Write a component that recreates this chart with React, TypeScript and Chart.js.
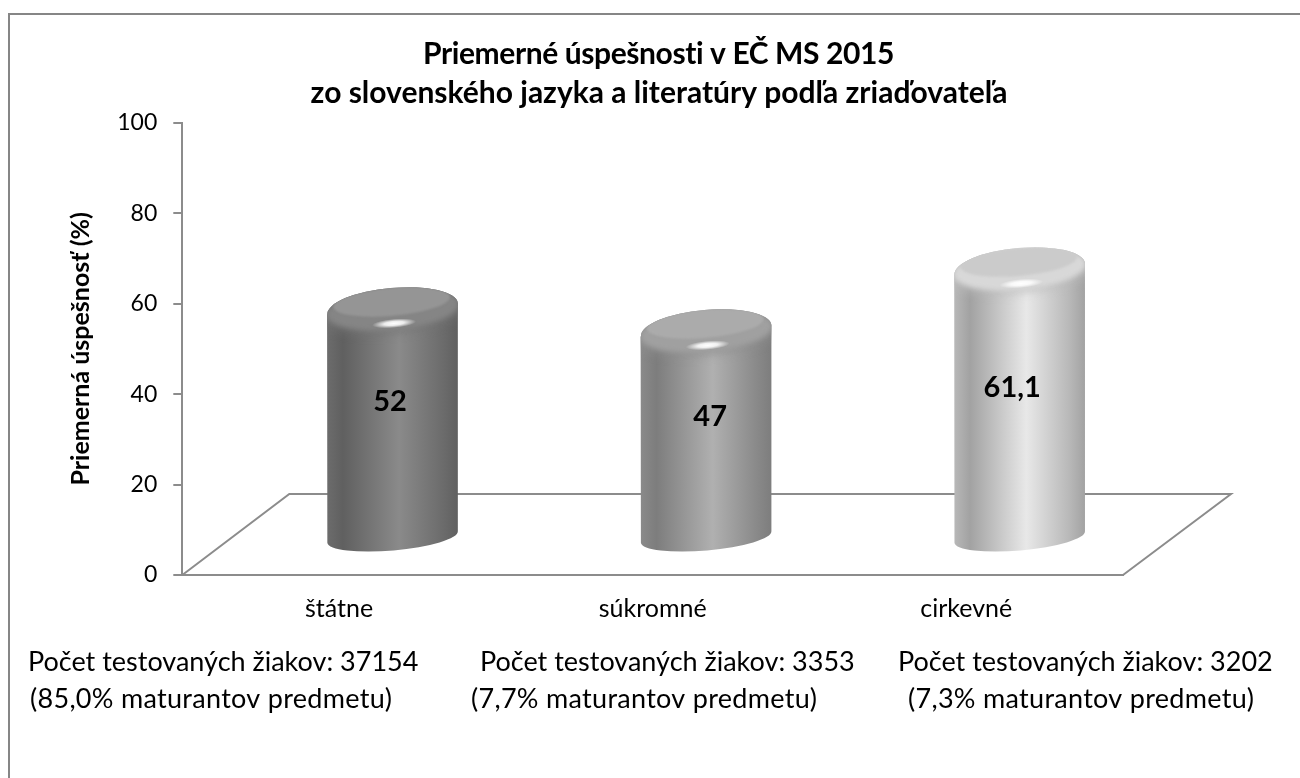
import React, { useEffect, useRef } from "react";
import { Chart, registerables } from "chart.js";

Chart.register(...registerables);

const categories = ["štátne", "súkromné", "cirkevné"];
const values = [52, 47, 61.1];
const valueLabels = ["52", "47", "61,1"];
const yTicks = [0, 20, 40, 60, 80, 100];
const titleLines = [
  "Priemerné úspešnosti v EČ MS 2015",
  "zo slovenského jazyka a literatúry podľa zriaďovateľa",
];
const yTitle = "Priemerná úspešnosť (%)";
const noteLine1 = [
  "Počet testovaných žiakov: 37154",
  "Počet testovaných žiakov: 3353",
  "Počet testovaných žiakov: 3202",
];
const noteLine2 = [
  "(85,0% maturantov predmetu)",
  "(7,7% maturantov predmetu)",
  "(7,3% maturantov predmetu)",
];

const FONT = "Lato, Carlito, 'Open Sans', sans-serif";
const AXIS = "#8c8c8c";
const shades = [
  { dark: "#606060", mid: "#6c6c6c", light: "#8a8a8a", face: "#959595", bevel: "#858585", top: "#757575" },
  { dark: "#7d7d7d", mid: "#8a8a8a", light: "#b0b0b0", face: "#ababab", bevel: "#a0a0a0", top: "#8e8e8e" },
  { dark: "#a2a2a2", mid: "#b8b8b8", light: "#e8e8e8", face: "#cbcbcb", bevel: "#d8d8d8", top: "#bcbcbc" },
];
const labelShift = [
  { x: -2.5, y: -56 },
  { x: 4, y: -52 },
  { x: -7.5, y: -49 },
];
const noteX = [
  [28, 30],
  [480, 471],
  [898, 908],
];

const TILT = (-5 * Math.PI) / 180;

function drawCylinder(ctx: CanvasRenderingContext2D, cx: number, rx: number, topY: number, baseY: number, s: any) {
  const ryT = 21;
  const ryB = 13.5;
  const lean = Math.sin(TILT) * rx;
  const path = () => {
    ctx.beginPath();
    ctx.moveTo(cx - rx, topY - lean);
    ctx.ellipse(cx, baseY, rx, ryB, TILT, Math.PI, 0, true);
    ctx.ellipse(cx, topY, rx, ryT, TILT, 0, Math.PI, true);
    ctx.closePath();
  };

  ctx.save();
  const grad = ctx.createLinearGradient(cx - rx, 0, cx + rx, 0);
  grad.addColorStop(0, s.mid);
  grad.addColorStop(0.12, s.dark);
  grad.addColorStop(0.55, s.light);
  grad.addColorStop(0.88, s.mid);
  grad.addColorStop(1, s.dark);
  path();
  ctx.fillStyle = grad;
  ctx.fill();

  path();
  ctx.clip();

  // shoulder of the rounded top
  ctx.save();
  ctx.filter = "blur(5px)";
  ctx.beginPath();
  ctx.ellipse(cx, topY + 3, rx + 8, ryT, TILT, 0, Math.PI * 2);
  ctx.fillStyle = s.top;
  ctx.globalAlpha = 0.7;
  ctx.fill();
  ctx.restore();

  // top bevel
  ctx.save();
  ctx.filter = "blur(2.5px)";
  ctx.beginPath();
  ctx.ellipse(cx, topY, rx + 1, ryT, TILT, 0, Math.PI * 2);
  ctx.fillStyle = s.bevel;
  ctx.fill();
  ctx.restore();

  // flat face
  ctx.save();
  ctx.filter = "blur(1.2px)";
  ctx.beginPath();
  ctx.ellipse(cx - 1, topY - 7, rx - 7, 14, TILT, 0, Math.PI * 2);
  ctx.fillStyle = s.face;
  ctx.fill();
  ctx.restore();

  // specular highlight
  ctx.save();
  ctx.translate(cx + 1.5, topY + 14.5);
  ctx.rotate(TILT);
  ctx.scale(22, 4.5);
  const hl = ctx.createRadialGradient(0, 0, 0, 0, 0, 1);
  hl.addColorStop(0, "rgba(255,255,255,1)");
  hl.addColorStop(0.45, "rgba(255,255,255,0.85)");
  hl.addColorStop(1, "rgba(255,255,255,0)");
  ctx.fillStyle = hl;
  ctx.beginPath();
  ctx.arc(0, 0, 1, 0, Math.PI * 2);
  ctx.fill();
  ctx.restore();
  ctx.restore();
}

const overlay = {
  id: "overlay",
  beforeDraw(chart: any) {
    const { ctx, width, height } = chart;
    ctx.save();
    ctx.strokeStyle = "#868686";
    ctx.lineWidth = 2;
    ctx.beginPath();
    ctx.moveTo(9, height);
    ctx.lineTo(9, 14);
    ctx.lineTo(width, 14);
    ctx.stroke();
    ctx.restore();
  },
  beforeDatasetsDraw(chart: any) {
    const { ctx, chartArea } = chart;
    const y0 = chart.scales.y.getPixelForValue(0);
    ctx.save();
    ctx.strokeStyle = AXIS;
    ctx.lineWidth = 2;
    ctx.beginPath();
    ctx.moveTo(chartArea.left, y0);
    ctx.lineTo(chartArea.left + 107, y0 - 81);
    ctx.lineTo(chartArea.right + 108, y0 - 81);
    ctx.lineTo(chartArea.right, y0);
    ctx.stroke();
    ctx.restore();
  },
  afterDatasetsDraw(chart: any) {
    const { ctx } = chart;
    const y = chart.scales.y;
    const y0 = y.getPixelForValue(0);
    const meta = chart.getDatasetMeta(0);
    meta.data.forEach((el: any, i: number) => {
      const baseY = y0 - 38;
      const topY = baseY - (y0 - el.y) * 0.97;
      drawCylinder(ctx, el.x + 53.5, el.width / 2, topY, baseY, shades[i]);
    });

    ctx.save();
    ctx.fillStyle = "#000";
    ctx.textBaseline = "middle";
    ctx.textAlign = "center";
    ctx.font = `bold 29px ${FONT}`;
    meta.data.forEach((el: any, i: number) => {
      ctx.fillText(valueLabels[i], el.x + 53.5 + labelShift[i].x, y.getPixelForValue(values[i] / 2) + labelShift[i].y);
    });

    ctx.font = `bold 30px ${FONT}`;
    (ctx as any).letterSpacing = "-0.4px";
    ctx.fillText(titleLines[0], 658.5, 54);
    (ctx as any).letterSpacing = "0px";
    ctx.fillText(titleLines[1], 659, 93);

    ctx.textAlign = "left";
    ctx.font = `27px ${FONT}`;
    noteLine1.forEach((t, i) => ctx.fillText(t, noteX[i][0], 662));
    (ctx as any).letterSpacing = "0.3px";
    noteLine2.forEach((t, i) => ctx.fillText(t, noteX[i][1], 699));
    ctx.restore();
  },
};

export default function App() {
  const ref = useRef<HTMLCanvasElement>(null);
  useEffect(() => {
    const chart = new Chart(ref.current!, {
      type: "bar",
      data: {
        labels: categories,
        datasets: [{ data: values, backgroundColor: "rgba(0,0,0,0)", borderWidth: 0, barThickness: 131 }],
      },
      options: {
        animation: false,
        responsive: false,
        layout: { padding: { top: 122.7, right: 177, bottom: 0, left: 0 } },
        plugins: { legend: { display: false }, title: { display: false }, tooltip: { enabled: false } },
        scales: {
          x: {
            afterFit: (s: any) => { s.height = 203; },
            grid: { display: false },
            border: { color: AXIS, width: 2 },
            ticks: { color: "#000", padding: 11, maxRotation: 0, autoSkip: false, font: { family: FONT, size: 25 } },
          },
          y: {
            min: 0,
            max: 100,
            afterBuildTicks: (s: any) => { s.ticks = yTicks.map((value) => ({ value })); },
            afterFit: (s: any) => { s.width = 182.3; },
            grid: { drawOnChartArea: false, drawTicks: true, tickLength: 9, color: AXIS, lineWidth: 2 },
            border: { color: AXIS, width: 2 },
            ticks: { color: "#000", padding: 16, font: { family: FONT, size: 23 } },
            title: {
              display: true,
              text: yTitle,
              color: "#000",
              padding: { top: 66, bottom: 0 },
              font: { family: FONT, size: 25, weight: "bold" },
            },
          },
        },
      },
      plugins: [overlay],
    } as any);
    return () => chart.destroy();
  }, []);
  return (
    <div style={{ position: "fixed", left: 0, top: 0, width: 1300, height: 778, background: "#fff" }}>
      <canvas ref={ref} width={1300} height={778} style={{ display: "block" }} />
    </div>
  );
}
